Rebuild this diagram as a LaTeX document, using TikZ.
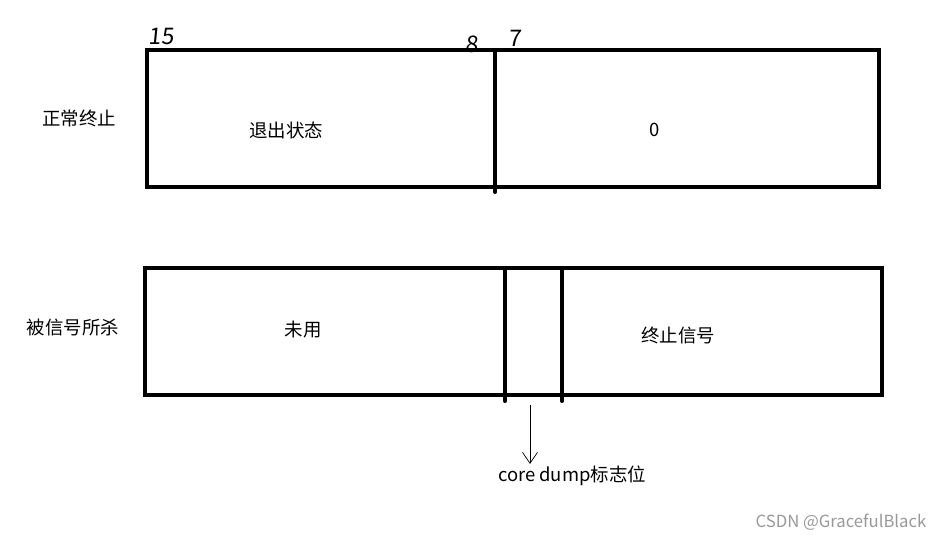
\documentclass[tikz,border=0pt]{standalone}
\usepackage{fontspec}
\setmainfont{Noto Sans CJK SC}
\usepackage{tikz}
\usetikzlibrary{positioning, arrows.meta}

\begin{document}
\begin{tikzpicture}[
    x=0.02cm, y=-0.02cm,
    field/.style={draw, line width=2.3pt, minimum height=0pt},
    bar/.style={line width=2.3pt, line cap=round},
    lbl/.style={font=\fontsize{10.5}{12}\selectfont, inner sep=1pt},
    bitno/.style={font=\fontsize{13}{14}\selectfont\addfontfeature{FakeSlant=0.1}, inner sep=0pt},
    arrow/.style={-{Straight Barb[length=2.2mm, width=3mm]}, thin}
]
\useasboundingbox (0,0) rectangle (949,539);
% top row: normal exit
\draw[field] (147,50) rectangle (879,187);
\coordinate (t8top) at (495,50);
\coordinate (t8bot) at (495,192);
\draw[bar] (t8top) -- (t8bot);
\node[lbl] (normal) at (79,118) {正常终止};
\node[lbl] (status) at (286,130) {退出状态};
\node[lbl] (zero) at (655,130) {0};
\node[bitno] (b15) at (161,36) {15};
\node[bitno] (b8) at (472,44) {8};
\node[bitno] (b7) at (515,38) {7};
% bottom row: killed by signal
\draw[field] (145,268) rectangle (882,395);
\coordinate (c1top) at (505,268);
\coordinate (c1bot) at (505,401);
\coordinate (c2top) at (562,268);
\coordinate (c2bot) at (562,401);
\draw[bar] (c1top) -- (c1bot);
\draw[bar] (c2top) -- (c2bot);
\node[lbl] (killed) at (73,327) {被信号所杀};
\node[lbl] (unused) at (303,330) {未用};
\node[lbl] (signal) at (678,335) {终止信号};
\node[lbl] (core) at (572,476) {core dump标志位};
\coordinate (cdflag) at (530,405);
\draw[arrow] (cdflag) -- (core.north -| cdflag);
% watermark
\node[font=\fontsize{9.5}{11}\selectfont, text=gray!80, inner sep=0pt] (mark) at (841,522) {CSDN @GracefulBlack};
\end{tikzpicture}
\end{document}
